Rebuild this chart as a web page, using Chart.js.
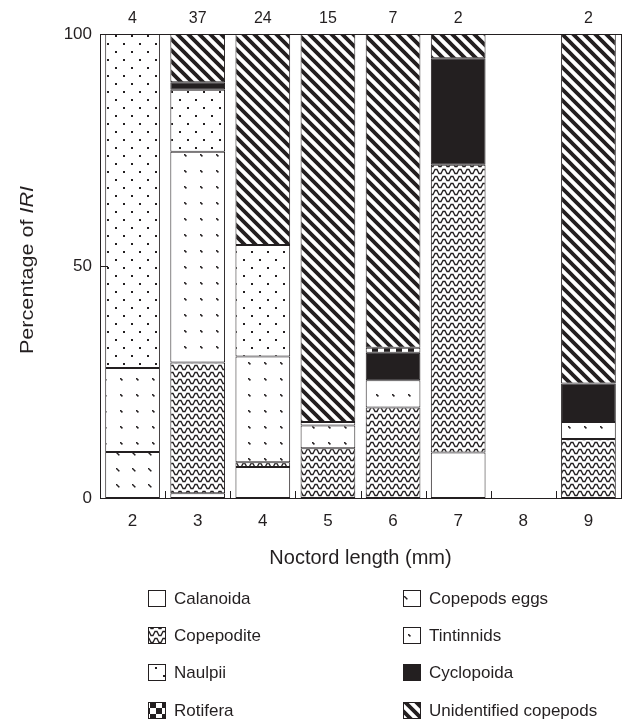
<!DOCTYPE html>
<html>
<head>
<meta charset="utf-8">
<script src="https://cdn.jsdelivr.net/npm/chart.js@4"></script>
<style>
  body { margin: 0; background: #fff; }
</style>
</head>
<body>
<canvas id="chart" width="630" height="723"></canvas>
<script>
// noctord length classes and number of fish per class
const lengths = ['2', '3', '4', '5', '6', '7', '8', '9'];
const sampleSizes = ['4', '37', '24', '15', '7', '2', '', '2'];

// percentage of IRI per prey group (stacked bottom to top)
const calanoida    = [null, 1.0, 6.7, null, null, 9.8, null, null];
const copepodite   = [null, 28.2, 1.0, 10.7, 19.5, 62.0, null, 12.7];
const copepodsEggs = [9.9, null, null, null, null, null, null, null];
const tintinnids   = [18.1, 45.4, 22.8, 4.9, 5.9, null, null, 3.7];
const naulpii      = [72.0, 13.4, 24.0, 0.8, null, null, null, null];
const cyclopoida   = [null, 1.6, null, null, 5.9, 23.0, null, 8.3];
const rotifera     = [null, null, null, null, 1.1, null, null, null];
const unidentified = [null, 10.4, 45.5, 83.6, 67.6, 5.2, null, 75.3];

const ink = '#231f20';
const font = 'Liberation Sans, Arial, sans-serif';

// small tiles used as fill patterns
function tile(w, h, draw) {
    const c = document.createElement('canvas');
    c.width = w; c.height = h;
    const g = c.getContext('2d');
    g.fillStyle = '#fff';
    g.fillRect(0, 0, w, h);
    g.fillStyle = ink;
    g.strokeStyle = ink;
    draw(g, w, h);
    return g.createPattern(c, 'repeat');
}

const patterns = {
    white: '#fff',
    zigzag: tile(8, 7, (g) => {
        g.lineWidth = 1.3;
        g.beginPath();
        g.moveTo(0, 5.5); g.lineTo(1, 5.5); g.lineTo(3, 1.5); g.lineTo(5, 1.5); g.lineTo(7, 5.5); g.lineTo(8, 5.5);
        g.stroke();
    }),
    dashes: tile(16, 16, (g) => {
        g.fillRect(4, 4, 1.5, 1.5);
        g.fillRect(5, 5, 1.5, 1.5);
        g.fillRect(6, 6, 1.5, 1.5);
    }),
    smallDots: tile(16, 16, (g) => {
        g.fillRect(8, 10, 1.6, 1.6);
        g.fillRect(9, 11, 1.6, 1.6);
    }),
    dots: tile(16, 16, (g) => {
        g.fillRect(3, 3, 2, 2);
        g.fillRect(11, 11, 2, 2);
    }),
    black: ink,
    checker: tile(12, 12, (g) => {
        g.fillRect(0, 0, 6, 6);
        g.fillRect(6, 6, 6, 6);
    }),
    stripes: tile(11, 11, (g, s) => {
        g.lineWidth = 3.8;
        g.beginPath();
        for (let k = -1; k <= 1; k++) {
            g.moveTo(k * s - 2, -2);
            g.lineTo(k * s + s + 2, s + 2);
        }
        g.stroke();
    })
};

function series(label, data, fill) {
    return {
        label: label,
        data: data,
        backgroundColor: fill,
        borderColor: ink,
        borderWidth: 1,
        borderSkipped: false,
        categoryPercentage: 1,
        barPercentage: 0.84
    };
}

const datasets = [
    series('Calanoida', calanoida, patterns.white),
    series('Copepodite', copepodite, patterns.zigzag),
    series('Copepods eggs', copepodsEggs, patterns.dashes),
    series('Tintinnids', tintinnids, patterns.smallDots),
    series('Naulpii', naulpii, patterns.dots),
    series('Cyclopoida', cyclopoida, patterns.black),
    series('Rotifera', rotifera, patterns.checker),
    series('Unidentified copepods', unidentified, patterns.stripes)
];

// legend in two columns, drawn under the axis title
const legendColumns = [
    ['Calanoida', 'Copepodite', 'Naulpii', 'Rotifera'],
    ['Copepods eggs', 'Tintinnids', 'Cyclopoida', 'Unidentified copepods']
];

const extras = {
    id: 'extras',
    afterDraw(chart) {
        const ctx = chart.ctx;
        const area = chart.chartArea;
        const x = chart.scales.x;
        const y = chart.scales.y;
        ctx.save();
        ctx.strokeStyle = ink;
        ctx.lineWidth = 1;

        // short inward ticks between the bars
        ctx.beginPath();
        for (let i = 1; i < lengths.length; i++) {
            const px = Math.round((x.getPixelForValue(i - 1) + x.getPixelForValue(i)) / 2) + 0.5;
            ctx.moveTo(px, area.bottom);
            ctx.lineTo(px, area.bottom - 7);
        }
        // inward tick at 50 on the y axis
        const py = Math.round(y.getPixelForValue(50)) + 0.5;
        ctx.moveTo(area.left, py);
        ctx.lineTo(area.left + 8, py);
        ctx.stroke();

        // y axis title with italic IRI
        ctx.translate(28, (area.top + area.bottom) / 2 + 4);
        ctx.rotate(-Math.PI / 2);
        ctx.scale(1.2, 1);
        ctx.fillStyle = ink;
        ctx.textBaseline = 'middle';
        const a = 'Percentage of ';
        const b = 'IRI';
        ctx.font = '18px ' + font;
        const wa = ctx.measureText(a).width;
        ctx.font = 'italic 18px ' + font;
        const wb = ctx.measureText(b).width;
        let tx = -(wa + wb) / 2;
        ctx.font = '18px ' + font;
        ctx.textAlign = 'left';
        ctx.fillText(a, tx, 0);
        ctx.font = 'italic 18px ' + font;
        ctx.fillText(b, tx + wa, 0);
        ctx.restore();

        // legend
        ctx.save();
        ctx.font = '17px ' + font;
        ctx.textBaseline = 'middle';
        ctx.textAlign = 'left';
        const colX = [148, 403];
        const rowY = [100, 137, 174, 212];
        legendColumns.forEach((col, c) => {
            col.forEach((name, r) => {
                const ds = chart.data.datasets.find(d => d.label === name);
                const bx = colX[c];
                const by = area.bottom + rowY[r] - 8;
                ctx.fillStyle = ds.backgroundColor;
                ctx.fillRect(bx, by, 18, 17);
                ctx.strokeStyle = ink;
                ctx.lineWidth = 1;
                ctx.strokeRect(bx + 0.5, by + 0.5, 17, 16);
                ctx.fillStyle = ink;
                ctx.fillText(name, bx + 26, area.bottom + rowY[r] + 1);
            });
        });
        ctx.restore();
    }
};

new Chart(document.getElementById('chart'), {
    type: 'bar',
    data: {
        labels: lengths,
        datasets: datasets
    },
    options: {
        responsive: false,
        animation: false,
        layout: { padding: { left: 0, right: 9, top: 0, bottom: 153 } },
        plugins: {
            legend: { display: false },
            tooltip: { enabled: false }
        },
        scales: {
            x: {
                stacked: true,
                offset: true,
                grid: { display: false },
                border: { display: true, color: ink, width: 1 },
                ticks: { color: ink, font: { family: font, size: 17 }, padding: 5 },
                title: {
                    display: true,
                    text: 'Noctord length (mm)',
                    color: ink,
                    font: { family: font, size: 20 },
                    padding: { top: 0, bottom: 0 }
                },
                afterFit: (s) => { s.height = 72; }
            },
            x2: {
                type: 'category',
                position: 'top',
                labels: sampleSizes,
                offset: true,
                grid: { display: false },
                border: { display: true, color: ink, width: 1 },
                ticks: { color: ink, font: { family: font, size: 16 }, padding: -2 },
                afterFit: (s) => { s.height = 34; }
            },
            y: {
                stacked: true,
                min: 0,
                max: 100,
                grid: { display: false },
                border: { display: true, color: ink, width: 1 },
                ticks: { stepSize: 50, color: ink, font: { family: font, size: 17 }, padding: 0 },
                afterFit: (s) => { s.width = 100; }
            },
            y2: {
                position: 'right',
                min: 0,
                max: 100,
                grid: { display: false },
                border: { display: true, color: ink, width: 1 },
                ticks: { display: false },
                afterFit: (s) => { s.width = 0; }
            }
        }
    },
    plugins: [extras]
});
</script>
</body>
</html>
